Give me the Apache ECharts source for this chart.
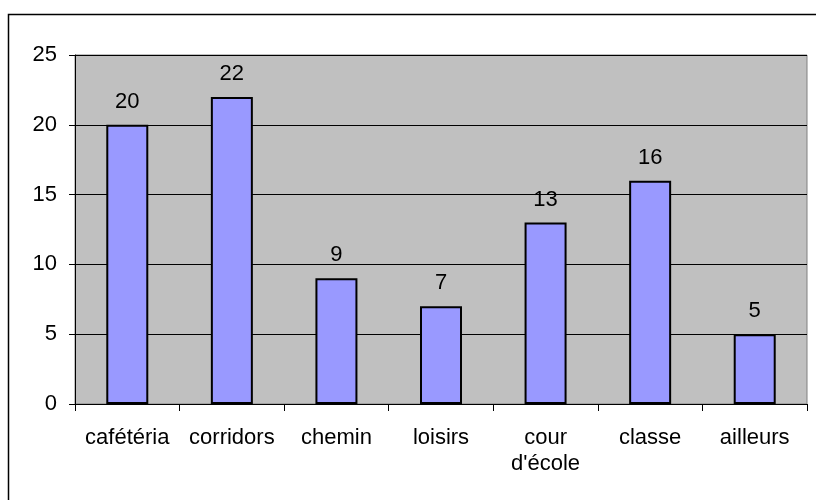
<!DOCTYPE html>
<html>
<head>
<meta charset="utf-8">
<script src="https://cdn.jsdelivr.net/npm/echarts@6/dist/echarts.min.js"></script>
<style>
  html, body { margin: 0; padding: 0; background: #fff; }
  #chart { width: 816px; height: 500px; }
</style>
</head>
<body>
<div id="chart"></div>
<script>
const categories = ['cafétéria', 'corridors', 'chemin', 'loisirs', "cour\nd'école", 'classe', 'ailleurs']
const values = [20, 22, 9, 7, 13, 16, 5]

const font = 'Liberation Sans, Arial, sans-serif'
const chart = echarts.init(document.getElementById('chart'))

chart.setOption({
  animation: false,
  backgroundColor: '#fff',
  graphic: [
    {
      type: 'rect',
      shape: { x: 8.5, y: 14.5, width: 830, height: 520 },
      style: { fill: 'none', stroke: '#000', lineWidth: 1.5 },
      silent: true,
      z: -1,
    },
  ],
  grid: {
    left: 75,
    right: 9,
    top: 55,
    bottom: 96,
    show: true,
    backgroundColor: '#c0c0c0',
    borderColor: '#808080',
    borderWidth: 1,
  },
  xAxis: {
    type: 'category',
    data: categories,
    axisLine: { lineStyle: { color: '#000', width: 1 } },
    axisTick: { show: true, length: 7, lineStyle: { color: '#000' } },
    axisLabel: {
      color: '#000',
      fontFamily: font,
      fontSize: 22,
      margin: 21,
      lineHeight: 26,
      interval: 0,
    },
  },
  yAxis: {
    type: 'value',
    min: 0,
    max: 25,
    interval: 5,
    axisLine: { show: true, lineStyle: { color: '#000', width: 1 } },
    axisTick: { show: true, length: 6, lineStyle: { color: '#000' } },
    axisLabel: {
      color: '#000',
      fontFamily: font,
      fontSize: 22,
      margin: 18,
    },
    splitLine: { show: true, lineStyle: { color: '#000', width: 1 } },
  },
  series: [
    {
      type: 'bar',
      data: values,
      barWidth: 42,
      itemStyle: { color: '#9999ff', borderColor: '#000', borderWidth: 2 },
      label: {
        show: true,
        position: 'top',
        distance: 12,
        color: '#000',
        fontFamily: font,
        fontSize: 22,
      },
    },
  ],
})
</script>
</body>
</html>
